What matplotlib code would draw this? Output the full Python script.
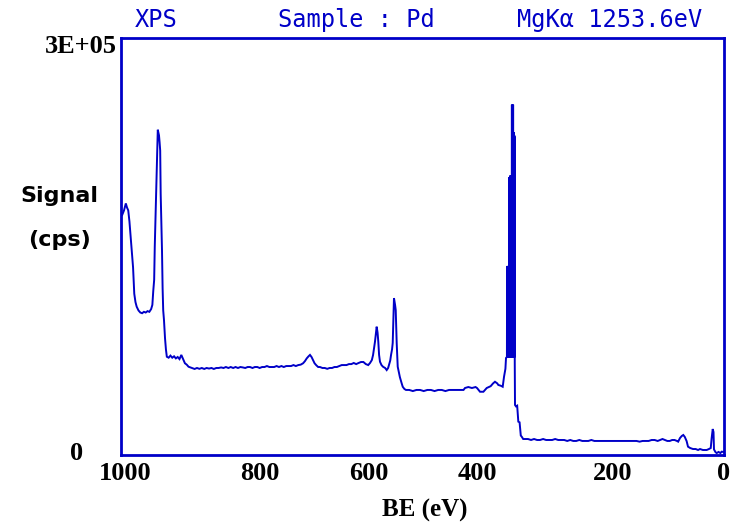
import matplotlib
matplotlib.use("Agg")
import matplotlib.pyplot as plt
from matplotlib.transforms import ScaledTranslation

# ---- data (binding energy in eV, signal in kcps) ----
be_a = [998, 995, 992, 990, 988, 986, 984, 982, 980, 978, 976, 974, 971, 968, 965, 962, 959, 956, 953, 950,
        948, 946.5, 945, 944, 942.5, 941, 940, 939, 938, 937, 936, 935, 934.2, 933, 932, 931, 930, 928.7,
        927, 925.5, 924]
cps_a = [172.7, 176, 181, 178, 176, 168, 157, 146, 135, 116, 110, 106.7, 104, 102.5, 102, 103, 102.5, 103.5, 103, 105,
         108, 118, 126, 150, 176, 200, 219, 234, 232, 230, 225, 219, 188, 165, 147, 120, 104, 97,
         84, 76, 70.7]

be_b = [921, 918, 915, 912, 909, 906, 903, 900, 897, 894, 891, 888, 885, 882, 878, 874, 870, 866, 862, 858,
        854, 850, 846, 842, 838, 834, 830, 826, 822, 818, 814, 810, 806, 802, 798, 794, 790, 786, 782, 778,
        774, 770, 766, 762, 758, 754, 750, 746, 742, 738, 734, 730, 726, 722, 718, 714, 710, 706, 702, 698,
        695, 692, 689, 686.6, 684, 681.6, 679, 676, 673, 670]
cps_b = [70, 71.5, 70, 71, 69.5, 70.5, 69, 72, 69, 66, 65, 63.5, 63, 62.5, 61.9, 62.6, 62, 62.6, 61.9, 62.6,
         62.2, 62.6, 61.9, 62.6, 62.6, 63, 62.6, 63.3, 62.6, 63.3, 62.6, 63.3, 62.6, 63.3, 63, 62.6, 63.3, 63.3, 62.6, 63.3,
         63.3, 62.6, 63.3, 63.3, 64, 63.3, 63.3, 63.3, 64, 63.3, 64, 63.3, 64, 64, 64, 64.7, 64, 64.7, 65, 66,
         67.5, 69.5, 71, 72, 70.5, 68.3, 66, 64.5, 63.3, 63.3]

be_c = [666, 662, 658, 654, 650, 646, 642, 638, 634, 630, 626, 622, 618, 614, 610, 606, 602, 598, 594, 590,
        587, 584, 582, 580, 578.8, 576, 574.5, 573.3, 572, 570.5, 568, 565.5, 562, 559.4, 557, 555.6, 553.5,
        552.2, 550.5, 549.4, 547.3, 545.5, 544.4, 542.8, 541.1, 539, 537.5, 536.2, 534.5, 532.8, 530, 527.4]
cps_c = [62.6, 62.6, 62, 62.6, 62.6, 63.3, 63.3, 64, 64.7, 64.7, 64.7, 65.4, 65.4, 66.2, 65.4, 66.2, 66.9, 66.9, 65.4, 64.7,
         66.2, 68.3, 71.9, 78, 81.5, 92.3, 88, 81.5, 72, 67.1, 64.7, 63.5, 62.6, 61.1, 62.6, 64.7, 68,
         71.9, 76, 80.6, 112.9, 108, 104.3, 80.6, 63.5, 59, 56, 54, 51.5, 49.1, 47.5, 46.8]

be_d = [522, 516, 510, 504, 498, 492, 486, 480, 474, 468, 462, 456, 450, 444, 438, 432, 429.5, 424, 418, 412,
        409.6, 404.6, 399, 393.5, 387, 383, 379.8, 376, 374.3, 370, 367, 364.8, 362.5, 361.5, 360]
cps_d = [46.8, 46, 46.8, 46.8, 46, 46.8, 46.8, 46, 46.8, 46.8, 46, 46.8, 46.8, 46.8, 46.8, 46.8, 48.2, 48.9, 48.2, 48.9,
         48.2, 45.5, 45.5, 48.2, 49.5, 51.5, 52.7, 51.5, 50.4, 49.8, 49.1, 56.3, 62, 69.8, 70.5]

be_pd3d = [359.75, 359.5, 359.25, 359.0, 358.75, 358.5, 358.25, 358.0, 357.75, 357.5, 357.25, 357.0,
           356.75, 356.5, 356.25, 356.0, 355.75, 355.5, 355.25, 355.0, 354.75, 354.5, 354.25, 354.0,
           353.75, 353.5, 353.25, 353.0, 352.75, 352.5, 352.25, 352.0, 351.75, 351.5, 351.25, 351.0,
           350.75, 350.5, 350.25, 350.0, 349.75, 349.5, 349.25, 349.0, 348.75, 348.5, 348.25, 348.0,
           347.75, 347.5, 347.25, 347.0]
cps_pd3d = [135, 70, 136, 71, 135, 70, 136, 71, 134, 70, 136, 70,
            135, 71, 136, 70, 200, 71, 199, 70, 201, 71, 200, 70,
            198, 71, 200, 70, 201, 71, 200, 70, 252, 71, 251, 70,
            252, 71, 250, 70, 252, 71, 232, 70, 231, 71, 232, 70,
            230, 71, 229, 66]

be_e = [346.6, 345, 343, 341.1, 339, 337, 335.5, 333, 330, 325, 320, 315, 310, 305, 300, 295, 290, 285, 280,
        275, 270, 265, 260, 255, 250, 245, 240, 235, 230, 225, 220, 215, 210, 205, 200, 195, 190, 185, 180,
        175, 170, 165, 160, 155, 150, 145, 140, 135, 130, 125, 120, 115, 110, 106, 102, 98, 94, 90, 86, 82,
        78, 76, 73, 70, 67.5, 65, 62, 59.7, 56, 51.4, 47, 43, 39.8, 35, 31, 28.7, 25, 22, 20.5, 18.7, 17.4,
        16.6, 14, 12.1, 9, 6, 3.8, 1.5]
cps_e = [36, 35, 35.5, 24, 23.5, 14, 13.2, 11.5, 11.5, 11.5, 10.8, 11.5, 10.8, 10.8, 11.5, 10.8, 10.8, 10.8, 11.5,
         10.8, 10.8, 10.8, 10.1, 10.8, 10.1, 10.1, 10.8, 10.1, 10.1, 10.1, 10.8, 10.1, 10.1, 10.1, 10.1, 10.1, 10.1, 10.1, 10.1,
         10.1, 10.1, 10.1, 10.1, 10.1, 10.1, 10.1, 9.6, 10.1, 10.1, 10.1, 10.8, 10.8, 10.1, 10.8, 11.5, 10.8, 10.1, 10.1, 10.8, 10.8,
         10.1, 9.6, 12.2, 13.7, 14.4, 13, 10, 6, 5, 4.3, 4.3, 3.6, 4.3, 3.6, 3.6, 3.6, 4.3, 5, 12, 18.7, 16.5,
         4, 2, 1.4, 2.2, 1.4, 2.4, 2.2]

be = be_a + be_b + be_c + be_d + be_pd3d + be_e
cps = [v * 1000 for v in (cps_a + cps_b + cps_c + cps_d + cps_pd3d + cps_e)]

x_ticks = [1000, 800, 600, 400, 200, 0]
x_labels = ["1000", "800", "600", "400", "200", "0"]
y_ticks = [0, 300000]
y_labels = ["0", "3E+05"]

BLUE = "#0000C8"
W, H = 743, 525

fig = plt.figure(figsize=(W / 100, H / 100), dpi=100)
fig.patch.set_facecolor("white")
ax = fig.add_axes([121 / W, 1 - 455 / H, 603 / W, 417 / H])
ax.plot(be, cps, color=BLUE, lw=1.4, solid_joinstyle="miter")
ax.set_xlim(1000, 0)
ax.set_ylim(0, 300000)

for s in ax.spines.values():
    s.set_color(BLUE)
    s.set_linewidth(2.0)

tick_font = dict(family="Liberation Serif", weight="bold", size=19)
ax.set_xticks(x_ticks)
ax.set_xticklabels(x_labels, **tick_font)
ax.set_yticks(y_ticks)
ax.set_yticklabels(y_labels, **tick_font)
ax.tick_params(axis="both", length=0)
ax.tick_params(axis="x", pad=5)
ax.tick_params(axis="y", pad=3)

# per-label offsets (pixels) to mimic the original's character-grid placement
x_off = [4, 18, 7, -5, 9, 0]
for lab, dx in zip(ax.get_xticklabels(), x_off):
    lab.set_transform(lab.get_transform() + ScaledTranslation(dx / 100, 0, fig.dpi_scale_trans))
ylabs = ax.get_yticklabels()
ylabs[0].set_transform(ylabs[0].get_transform() + ScaledTranslation(-34 / 100, 4 / 100, fig.dpi_scale_trans))
ylabs[1].set_transform(ylabs[1].get_transform() + ScaledTranslation(0, -6 / 100, fig.dpi_scale_trans))

def fx(px):
    return px / W

def fy(py):
    return 1 - py / H

mono = dict(family="DejaVu Sans Mono", size=17, color=BLUE, va="center", ha="left")
fig.text(fx(135), fy(20), "XPS", **mono)
fig.text(fx(278), fy(20), "Sample : Pd", **mono)
fig.text(fx(517), fy(20), "MgKα 1253.6eV", **mono)

lab_font = dict(family="DejaVu Sans", weight="bold", size=16, color="black", ha="center", va="center")
fig.text(fx(59), fy(196), "Signal", **lab_font)
fig.text(fx(59), fy(240), "(cps)", **lab_font)
fig.text(fx(425), fy(510), "BE (eV)", family="Liberation Serif", weight="bold", size=18,
         color="black", ha="center", va="center")

fig.savefig("out.png", dpi=100)
